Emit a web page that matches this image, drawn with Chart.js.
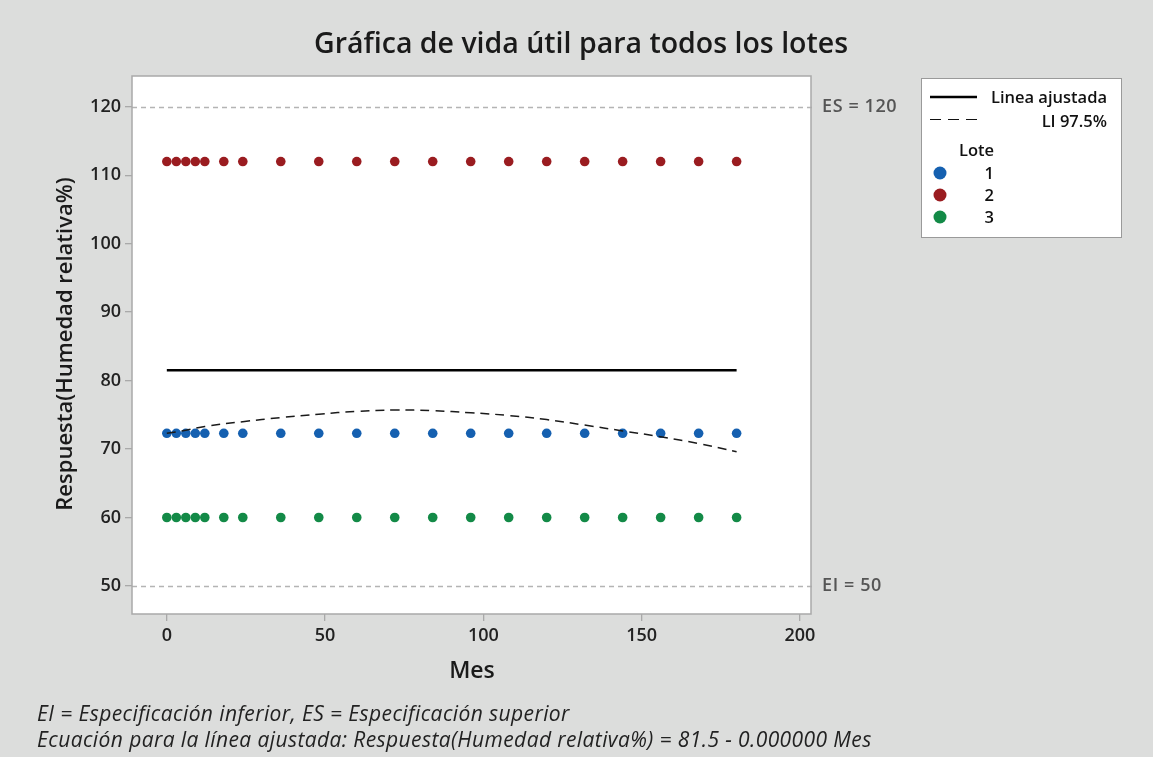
<!DOCTYPE html>
<html lang="es">
  <head>
    <meta charset="UTF-8" />
    <title>Gráfica de vida útil para todos los lotes</title>
    <script src="https://cdn.jsdelivr.net/npm/chart.js"></script>
    <style>
      html, body { margin: 0; padding: 0; background: #dcdddc; }
      #wrap { position: relative; width: 1153px; height: 757px; }
    </style>
  </head>
  <body>
    <div id="wrap"><canvas id="shelfChart" width="1153" height="757"></canvas></div>

    <script>
      // Data
      const meses = [0, 3, 6, 9, 12, 18, 24, 36, 48, 60, 72, 84, 96, 108, 120, 132, 144, 156, 168, 180];
      const lote1 = [72.3, 72.3, 72.3, 72.3, 72.3, 72.3, 72.3, 72.3, 72.3, 72.3, 72.3, 72.3, 72.3, 72.3, 72.3, 72.3, 72.3, 72.3, 72.3, 72.3];
      const lote2 = [112, 112, 112, 112, 112, 112, 112, 112, 112, 112, 112, 112, 112, 112, 112, 112, 112, 112, 112, 112];
      const lote3 = [60, 60, 60, 60, 60, 60, 60, 60, 60, 60, 60, 60, 60, 60, 60, 60, 60, 60, 60, 60];

      const ajusteX = [0, 180];
      const ajusteY = [81.5, 81.5];

      const liX = [0, 6, 12, 24, 36, 48, 60, 72, 84, 96, 108, 120, 132, 144, 156, 168, 180];
      const liY = [72.3, 72.75, 73.3, 74.0, 74.6, 75.1, 75.5, 75.7, 75.6, 75.3, 74.9, 74.3, 73.5, 72.65, 71.8, 70.8, 69.6];

      const xTicks = [0, 50, 100, 150, 200];
      const yTicks = [50, 60, 70, 80, 90, 100, 110, 120];

      const ES = 120;
      const EI = 50;

      const loteNames = ["1", "2", "3"];
      const loteColors = ["#1560b0", "#9a1c20", "#138a47"];

      const FONT = '"Open Sans", "Noto Sans", sans-serif';

      const pts = ys => meses.map((m, i) => ({x: m, y: ys[i]}));
      const line = (xs, ys) => xs.map((x, i) => ({x: x, y: ys[i]}));

      // Background, plot box, spec lines, titles, legend, footnotes
      const decor = {
        id: "decor",
        beforeDraw(chart) {
          const {ctx, chartArea: a} = chart;
          ctx.save();
          ctx.fillStyle = "#dcdddc";
          ctx.fillRect(0, 0, chart.width, chart.height);
          ctx.fillStyle = "#ffffff";
          ctx.fillRect(a.left, a.top, a.right - a.left, a.bottom - a.top);
          ctx.restore();
        },
        beforeDatasetsDraw(chart) {
          const {ctx, chartArea: a, scales} = chart;
          ctx.save();
          ctx.strokeStyle = "#b4b4b4";
          ctx.lineWidth = 1.3;
          ctx.setLineDash([5, 4]);
          [ES, EI].forEach(v => {
            const y = Math.round(scales.y.getPixelForValue(v)) + 0.5;
            ctx.beginPath();
            ctx.moveTo(a.left, y);
            ctx.lineTo(a.right + 5, y);
            ctx.stroke();
          });
          ctx.restore();
        },
        afterDraw(chart) {
          const {ctx, chartArea: a, scales} = chart;
          ctx.save();

          // plot frame
          ctx.strokeStyle = "#a9a9a9";
          ctx.lineWidth = 1.5;
          ctx.strokeRect(a.left, a.top, a.right - a.left, a.bottom - a.top);

          // spec labels
          ctx.fillStyle = "#555";
          ctx.font = "600 18px " + FONT;
          ctx.letterSpacing = "0.6px";
          ctx.textAlign = "left";
          ctx.textBaseline = "middle";
          ctx.fillText("ES = " + ES, a.right + 11, scales.y.getPixelForValue(ES));
          ctx.fillText("EI = " + EI, a.right + 11, scales.y.getPixelForValue(EI));
          ctx.letterSpacing = "0px";

          // title
          ctx.fillStyle = "#1a1a1a";
          ctx.textAlign = "center";
          ctx.font = "600 28.5px " + FONT;
          ctx.fillText("Gráfica de vida útil para todos los lotes", 581, 45);

          // axis titles
          ctx.font = "600 23px " + FONT;
          ctx.fillText("Mes", 472, 671);
          ctx.save();
          ctx.translate(66, 344);
          ctx.rotate(-Math.PI / 2);
          ctx.font = "600 22px " + FONT;
          ctx.fillText("Respuesta(Humedad relativa%)", 0, 0);
          ctx.restore();

          // footnotes
          ctx.textAlign = "left";
          ctx.font = "italic 21px " + FONT;
          ctx.letterSpacing = "0.4px";
          ctx.fillStyle = "#222";
          ctx.fillText("EI = Especificación inferior, ES = Especificación superior", 37, 715);
          ctx.fillText("Ecuación para la línea ajustada: Respuesta(Humedad relativa%) = 81.5 - 0.000000 Mes", 37, 741);
          ctx.letterSpacing = "0px";

          // legend
          ctx.fillStyle = "#ffffff";
          ctx.fillRect(921, 78, 200, 159);
          ctx.strokeStyle = "#9a9a9a";
          ctx.lineWidth = 1;
          ctx.strokeRect(921.5, 78.5, 200, 159);

          ctx.strokeStyle = "#000";
          ctx.lineWidth = 2.5;
          ctx.beginPath();
          ctx.moveTo(930, 97);
          ctx.lineTo(977, 97);
          ctx.stroke();

          ctx.strokeStyle = "#111";
          ctx.lineWidth = 1;
          ctx.setLineDash([11, 7]);
          ctx.beginPath();
          ctx.moveTo(930, 119.5);
          ctx.lineTo(980, 119.5);
          ctx.stroke();
          ctx.setLineDash([]);

          ctx.fillStyle = "#111";
          ctx.font = "600 16.5px " + FONT;
          ctx.textAlign = "right";
          ctx.fillText("Linea ajustada", 1107, 98);
          ctx.fillText("LI 97.5%", 1107, 122);
          ctx.textAlign = "left";
          ctx.fillText("Lote", 959, 151);

          loteNames.forEach((n, i) => {
            const y = 173 + i * 22;
            ctx.fillStyle = loteColors[i];
            ctx.beginPath();
            ctx.arc(940, y, 6.5, 0, Math.PI * 2);
            ctx.fill();
            ctx.fillStyle = "#111";
            ctx.textAlign = "right";
            ctx.fillText(n, 994, y + 1);
          });

          ctx.restore();
        },
      };

      const ctx = document.getElementById("shelfChart").getContext("2d");

      new Chart(ctx, {
        type: "scatter",
        data: {
          datasets: [
            {
              label: "LI 97.5%",
              type: "line",
              data: line(liX, liY),
              borderColor: "#1a1a1a",
              borderWidth: 1.5,
              borderDash: [9, 6],
              pointRadius: 0,
              tension: 0.4,
              fill: false,
            },
            {
              label: "Linea ajustada",
              type: "line",
              data: line(ajusteX, ajusteY),
              borderColor: "#000",
              borderWidth: 2.5,
              pointRadius: 0,
              fill: false,
            },
            {label: "1", data: pts(lote1), backgroundColor: loteColors[0], borderWidth: 0, pointRadius: 4.8},
            {label: "2", data: pts(lote2), backgroundColor: loteColors[1], borderWidth: 0, pointRadius: 4.8},
            {label: "3", data: pts(lote3), backgroundColor: loteColors[2], borderWidth: 0, pointRadius: 4.8},
          ],
        },
        options: {
          responsive: false,
          animation: false,
          layout: {padding: {left: 0, top: 76, right: 342, bottom: 0}},
          plugins: {
            legend: {display: false},
            tooltip: {enabled: false},
            title: {display: false},
          },
          scales: {
            x: {
              type: "linear",
              min: -11,
              max: 203.5,
              afterFit: s => { s.height = 143; },
              afterBuildTicks: s => { s.ticks = xTicks.map(v => ({value: v})); },
              grid: {drawOnChartArea: false, drawTicks: true, tickLength: 7, color: "#a9a9a9", lineWidth: 1.3},
              border: {display: false},
              ticks: {font: {family: FONT, size: 18, weight: "600"}, color: "#222", padding: 4},
            },
            y: {
              type: "linear",
              min: 45.9,
              max: 124.5,
              afterFit: s => { s.width = 132; },
              afterBuildTicks: s => { s.ticks = yTicks.map(v => ({value: v})); },
              grid: {drawOnChartArea: false, drawTicks: true, tickLength: 7, color: "#a9a9a9", lineWidth: 1.3},
              border: {display: false},
              ticks: {font: {family: FONT, size: 18, weight: "600"}, color: "#222", padding: 4},
            },
          },
        },
        plugins: [decor],
      });
    </script>
  </body>
</html>
